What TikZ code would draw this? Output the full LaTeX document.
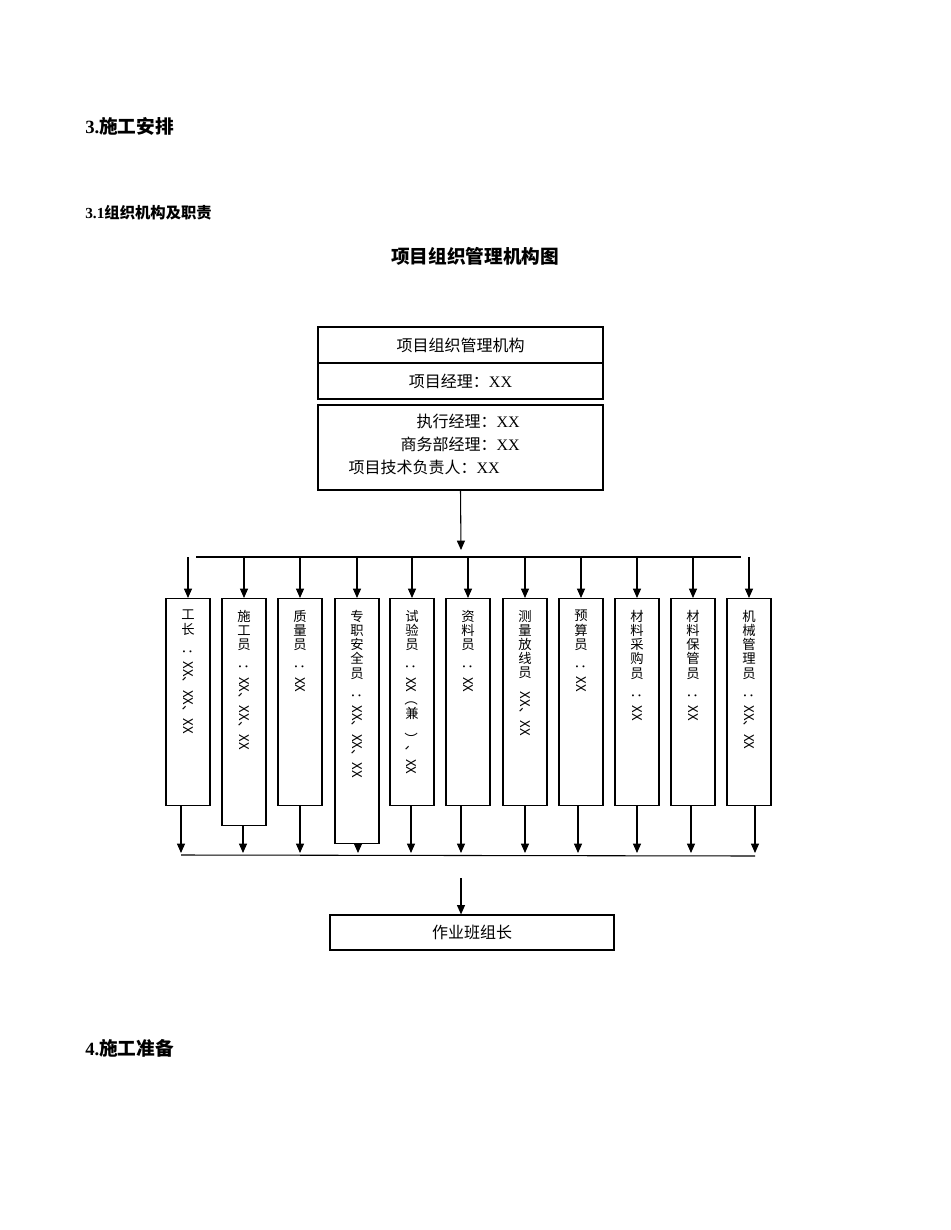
\documentclass[tikz,border=0pt]{standalone}
\usepackage{fontspec}
\setmainfont{Liberation Serif}
\newfontfamily\cjk{Noto Sans CJK SC}
\newfontfamily\cjkb{Noto Sans CJK SC}[FakeBold=0]
\usetikzlibrary{arrows.meta}
\newcommand{\rr}[1]{\rotatebox{-90}{#1}}
\begin{document}
\begin{tikzpicture}[x=0.75pt,y=-0.75pt,
  box/.style={draw,line width=0.9pt,inner sep=0pt},
  col/.style={draw,line width=0.9pt,anchor=north,minimum width=33pt,inner sep=0pt},
  vt/.style={anchor=north,align=center,inner sep=0pt,font=\fontsize{10pt}{10.6pt}\selectfont\cjk},
  arr/.style={line width=0.8pt,-{Triangle[length=7pt,width=6pt]}},
  ln/.style={line width=0.8pt}]
\useasboundingbox (0,0) rectangle (950,1230);
\node[anchor=west,inner sep=0pt,font=\fontsize{14pt}{14pt}\selectfont\bfseries] (h3) at (85,126) {3.{\cjk\bfseries 施工安排}};
\node[anchor=west,inner sep=0pt,font=\fontsize{11.5pt}{12pt}\selectfont\bfseries] (h31) at (85,213) {3.1{\cjk\bfseries 组织机构及职责}};
\node[inner sep=0pt,font=\fontsize{14pt}{14pt}\selectfont\cjk\bfseries] (title) at (475,256) {项目组织管理机构图};
\node[anchor=west,inner sep=0pt,font=\fontsize{14pt}{14pt}\selectfont\bfseries] (h4) at (85,1048) {4.{\cjk\bfseries 施工准备}};

\node[box,minimum width=213.75pt,minimum height=27pt,font=\fontsize{12pt}{12pt}\selectfont\cjk] (t1) at (460.5,345) {项目组织管理机构};
\node[box,minimum width=213.75pt,minimum height=27pt,font=\fontsize{12pt}{12pt}\selectfont] (t2) at (460.5,381) {{\cjk 项目经理：}XX};
\node[box,minimum width=213.75pt,minimum height=63.75pt] (t3) at (460.5,447.5) {};
\node[anchor=north east,align=right,inner sep=0pt,font=\fontsize{12pt}{17pt}\selectfont] (t3t) at (520,414) {{\cjk 执行经理：}XX\\{\cjk 商务部经理：}XX\hspace*{15pt}\\{\cjk 项目技术负责人：}XX\hspace*{15pt}};
\coordinate (hub) at (461,550);
\draw[arr] (t3.south) -- (hub);
\draw[ln] (196,557) coordinate (L) -- (741,557) coordinate (R);

\foreach \n/\x/\h in {a/188/207,b/244/227,c/300/207,d/357/245,e/412/207,f/468/207,g/525/207,h/581/207,i/637/207,j/693/207,k/749/207}{
  \node[col,minimum height=\h*0.75pt] (\n) at (\x,598) {};
  \coordinate (\n top) at (\x,557);
  \draw[arr] (\n top) -- (\n.north);
}
\node[vt] (ta) at ([yshift=-9pt]a.north) {工\\长\\\rr{：XX、XX、XX}};
\node[vt] (tb) at ([yshift=-9pt]b.north) {施\\工\\员\\\rr{：XX、XX、XX}};
\node[vt] (tc) at ([yshift=-9pt]c.north) {质\\量\\员\\\rr{：XX}};
\node[vt] (td) at ([yshift=-9pt]d.north) {专\\职\\安\\全\\员\\\rr{：XX、XX、XX}};
\node[vt] (te) at ([yshift=-9pt]e.north) {试\\验\\员\\\rr{：XX（}\\兼\\\rr{）、XX}};
\node[vt] (tf) at ([yshift=-9pt]f.north) {资\\料\\员\\\rr{：XX}};
\node[vt] (tg) at ([yshift=-9pt]g.north) {测\\量\\放\\线\\员\\\rr{XX、XX}};
\node[vt] (th) at ([yshift=-9pt]h.north) {预\\算\\员\\\rr{：XX}};
\node[vt] (ti) at ([yshift=-9pt]i.north) {材\\料\\采\\购\\员\\\rr{：XX}};
\node[vt] (tj) at ([yshift=-9pt]j.north) {材\\料\\保\\管\\员\\\rr{：XX}};
\node[vt] (tk) at ([yshift=-9pt]k.north) {机\\械\\管\\理\\员\\\rr{：XX、XX}};

\foreach \n/\x in {a/181,b/243,c/300,d/358,e/411,f/461,g/525,h/578,i/637,j/691,k/755}{
  \coordinate (\n s) at (\x,853);
  \draw[arr] (\n.south -| \n s) -- (\n s);
}
\draw[ln] (181,855) coordinate (BL) -- (755,856) coordinate (BR);
\node[box,minimum width=213pt,minimum height=26.25pt,font=\fontsize{12pt}{12pt}\selectfont\cjk] (w) at (472,932.5) {作业班组长};
\coordinate (wtop) at (461,878);
\draw[arr] (wtop) -- (wtop |- w.north);
\end{tikzpicture}
\end{document}
